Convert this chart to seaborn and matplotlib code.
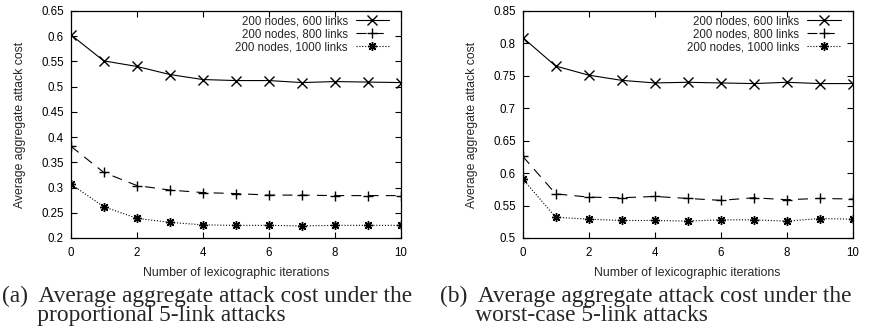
import seaborn as sns
import matplotlib.pyplot as plt
from matplotlib.ticker import FuncFormatter

# Data

iterations = [0, 1, 2, 3, 4, 5, 6, 7, 8, 9, 10]
series_labels = ['200 nodes, 600 links', '200 nodes, 800 links', '200 nodes, 1000 links']

prop_600 = [0.603, 0.551, 0.540, 0.524, 0.514, 0.512, 0.512, 0.508, 0.510, 0.509, 0.508]
prop_800 = [0.382, 0.330, 0.304, 0.295, 0.290, 0.288, 0.285, 0.285, 0.284, 0.284, 0.284]
prop_1000 = [0.307, 0.262, 0.239, 0.231, 0.226, 0.225, 0.225, 0.224, 0.225, 0.225, 0.225]

worst_600 = [0.809, 0.765, 0.751, 0.743, 0.739, 0.740, 0.739, 0.738, 0.740, 0.738, 0.738]
worst_800 = [0.626, 0.568, 0.563, 0.562, 0.564, 0.561, 0.558, 0.562, 0.559, 0.561, 0.560]
worst_1000 = [0.591, 0.532, 0.529, 0.527, 0.527, 0.526, 0.528, 0.528, 0.526, 0.530, 0.529]

yticks_a = [0.2, 0.25, 0.3, 0.35, 0.4, 0.45, 0.5, 0.55, 0.6, 0.65]
yticks_b = [0.5, 0.55, 0.6, 0.65, 0.7, 0.75, 0.8, 0.85]
xticks = [0, 2, 4, 6, 8, 10]

captions = ['(a)  Average aggregate attack cost under the\n      proportional 5-link attacks',
            '(b)  Average aggregate attack cost under the\n      worst-case 5-link attacks']

# Style

sns.set_style('ticks')
plt.rcParams['font.family'] = ['Liberation Sans', 'DejaVu Sans']
plt.rcParams['xtick.direction'] = 'in'
plt.rcParams['ytick.direction'] = 'in'
plt.rcParams['xtick.top'] = True
plt.rcParams['ytick.right'] = True
plt.rcParams['axes.edgecolor'] = 'black'
plt.rcParams['axes.linewidth'] = 0.9
plt.rcParams['xtick.color'] = 'black'
plt.rcParams['ytick.color'] = 'black'

lw = 0.8
styles = [
    dict(marker='x', linestyle='-'),
    dict(marker='+', linestyle=(0, (9.0, 6.5))),
    dict(marker=(8, 2, 0), linestyle=(0, (1.0, 1.6))),
]

fig = plt.figure(figsize=(8.71, 3.31), dpi=100)
ax_a = fig.add_axes([0.0812, 0.281, 0.3792, 0.686])
ax_b = fig.add_axes([0.6001, 0.281, 0.3788, 0.686])

panels = [
    (ax_a, [prop_600, prop_800, prop_1000], yticks_a),
    (ax_b, [worst_600, worst_800, worst_1000], yticks_b),
]

for ax, data, yt in panels:
    for vals, lab, st in zip(data, series_labels, styles):
        sns.lineplot(x=iterations, y=vals, ax=ax, color='black', linewidth=lw,
                     marker=st['marker'], linestyle=st['linestyle'],
                     markersize=6.5, markeredgewidth=1.0, markeredgecolor='black',
                     label=lab)
    ax.set_xlim(0, 10)
    ax.set_ylim(yt[0], yt[-1])
    ax.set_xticks(xticks)
    ax.set_yticks(yt)
    ax.yaxis.set_major_formatter(FuncFormatter(lambda v, p: '%g' % round(v, 2)))
    ax.tick_params(axis='both', length=4, width=0.8, labelsize=8.3)
    ax.tick_params(axis='x', pad=6.5)
    ax.tick_params(axis='y', pad=5)
    ax.set_xlabel('Number of lexicographic iterations', fontsize=8.8, labelpad=5.5)
    ax.set_ylabel('Average aggregate attack cost', fontsize=8.8, labelpad=11)
    ax.legend(loc='upper right', frameon=False, markerfirst=False, fontsize=8.3,
              numpoints=1, handlelength=2.9, handletextpad=0.7, labelspacing=0.08,
              borderaxespad=0.0, bbox_to_anchor=(0.978, 1.0))

# Captions under each panel
fig.text(0.002, 0.075, captions[0], family=['Liberation Serif'], fontsize=16.8,
         ha='left', va='center', linespacing=0.85)
fig.text(0.505, 0.075, captions[1], family=['Liberation Serif'], fontsize=16.8,
         ha='left', va='center', linespacing=0.85)

fig.savefig('out.png', dpi=100)
